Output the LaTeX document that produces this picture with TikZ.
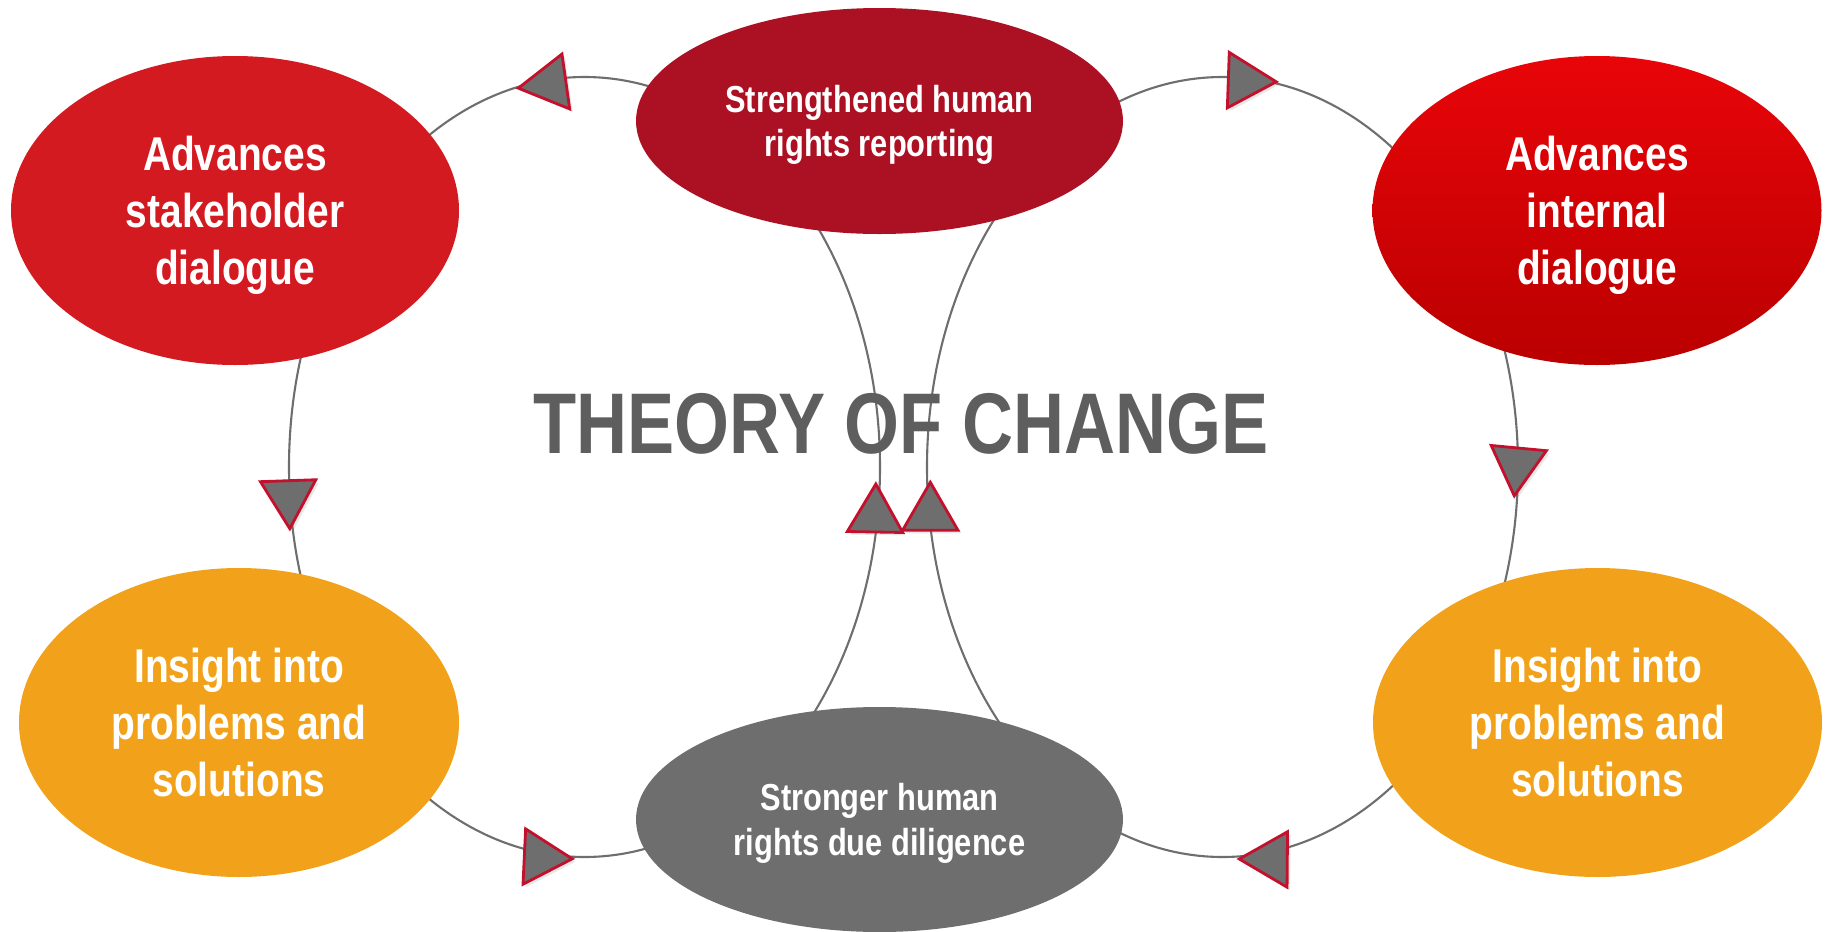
\documentclass[tikz,border=0pt]{standalone}
\usepackage{fontspec}
\usetikzlibrary{shapes.geometric,shadows}

\newfontfamily\narrowsans[FakeStretch=0.82]{Liberation Sans}

\definecolor{stakered}{HTML}{D31A21}
\definecolor{reportred}{HTML}{AC1023}
\definecolor{innertop}{HTML}{E80509}
\definecolor{innerbottom}{HTML}{BA0000}
\definecolor{amber}{HTML}{F2A21A}
\definecolor{slate}{HTML}{6E6E6E}
\definecolor{titlegray}{HTML}{5E5E5E}
\definecolor{markred}{HTML}{C3102C}

\tikzset{
  bubble/.style={ellipse, inner sep=0pt, text=white, align=center, text depth=0pt,
    font=\narrowsans\bfseries\fontsize{13.5}{16.2}\selectfont},
  bubble small/.style={bubble,
    font=\narrowsans\bfseries\fontsize{10.7}{12.7}\selectfont},
  cycleline/.style={draw=slate, line width=0.6pt},
  marker/.style={regular polygon, regular polygon sides=3, minimum size=0.64cm,
    inner sep=0pt, fill=slate, draw=markred, line width=0.8pt,
    drop shadow={opacity=0.18, shadow xshift=0.03cm, shadow yshift=-0.03cm}}
}

\begin{document}
\begin{tikzpicture}
        \useasboundingbox (0,0) rectangle (18.29,9.31);
        % the two loops
        \coordinate (cL) at (5.845,4.64);
        \coordinate (cR) at (12.225,4.64);
        \draw[cycleline] (cL) ellipse [x radius=2.955, y radius=3.9];
        \draw[cycleline] (cR) ellipse [x radius=2.955, y radius=3.9];
        % outcomes
        \node[bubble, fill=stakered, minimum width=4.48cm, minimum height=3.09cm]
            (stake) at (2.35,7.205) {Advances\\stakeholder\\dialogue};
        \node[bubble small, fill=reportred, minimum width=4.87cm, minimum height=2.26cm]
            (report) at (8.795,8.10) {Strengthened human\\rights reporting};
        \node[bubble, top color=innertop, bottom color=innerbottom,
            minimum width=4.49cm, minimum height=3.09cm]
            (internal) at (15.97,7.205) {Advances\\internal\\dialogue};
        \node[bubble, fill=amber, minimum width=4.40cm, minimum height=3.09cm]
            (insightL) at (2.39,2.085) {Insight into\\problems and\\solutions};
        \node[bubble, fill=amber, minimum width=4.49cm, minimum height=3.09cm]
            (insightR) at (15.975,2.085) {Insight into\\problems and\\solutions};
        \node[bubble small, fill=slate, minimum width=4.87cm, minimum height=2.25cm]
            (diligence) at (8.795,1.115) {Stronger human\\rights due diligence};
        % arrow marks on the loops
        \node[marker, rotate=98] (mkA) at (5.50,8.473) {};
        \node[marker, rotate=182] (mkB) at (2.887,4.343) {};
        \node[marker, rotate=-92.7] (mkC) at (5.403,0.737) {};
        \node[marker, rotate=-1] (mkD) at (8.753,4.15) {};
        \node[marker, rotate=-92] (mkE) at (12.443,8.503) {};
        \node[marker, rotate=174.6] (mkF) at (15.173,4.67) {};
        \node[marker, rotate=89.5] (mkG) at (12.713,0.717) {};
        \node[marker, rotate=0] (mkH) at (9.303,4.167) {};
        % title
        \node[anchor=base, text=titlegray,
            font=\narrowsans\bfseries\fontsize{24.5}{28}\selectfont]
            (toc) at (9.01,4.78) {THEORY OF CHANGE};
    \end{tikzpicture}
\end{document}
